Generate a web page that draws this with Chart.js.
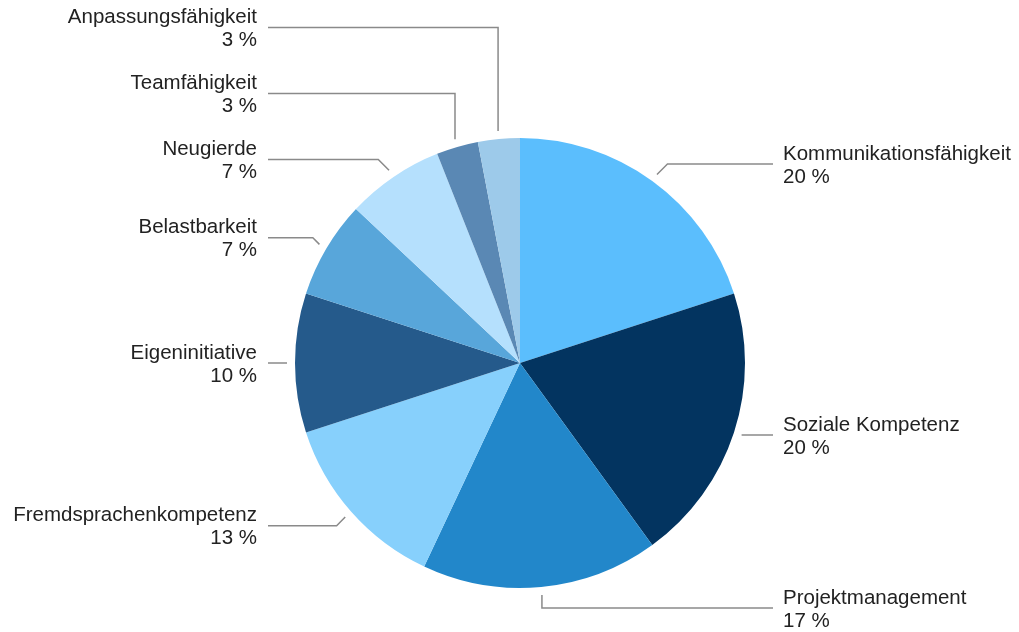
<!DOCTYPE html>
<html>
<head>
<meta charset="utf-8">
<script src="https://cdn.jsdelivr.net/npm/chart.js@4"></script>
<style>
  html, body { margin: 0; padding: 0; background: #fff; }
  #wrap { width: 1019px; height: 632px; }
</style>
</head>
<body>
<div id="wrap"><canvas id="pieChart"></canvas></div>
<script>
const labels = ['Kommunikationsfähigkeit', 'Soziale Kompetenz', 'Projektmanagement',
  'Fremdsprachenkompetenz', 'Eigeninitiative', 'Belastbarkeit', 'Neugierde',
  'Teamfähigkeit', 'Anpassungsfähigkeit'];
const shares = [20, 20, 17, 13, 10, 7, 7, 3, 3];
const colorHex = ['#5BBEFD', '#033460', '#2287CA', '#87D0FC', '#255A8B',
  '#58A6DA', '#B5E0FD', '#5A88B4', '#9DCAEA'];

// labels with leader lines
const calloutPlugin = {
  id: 'callouts',
  afterDatasetsDraw(chart) {
    const ctx = chart.ctx;
    const meta = chart.getDatasetMeta(0);
    const items = meta.data.map((arc, i) => {
      const mid = (arc.startAngle + arc.endAngle) / 2;
      const r = arc.outerRadius + 8;
      const ax = arc.x + Math.cos(mid) * r;
      const ay = arc.y + Math.sin(mid) * r;
      const side = Math.cos(mid) >= 0 ? 1 : -1;
      const s = Math.sin(mid);
      return { i, mid, ax, ay, side, ly: ay + (Math.abs(s) < 0.4 ? 0 : s * 13) };
    });

    // push labels apart, left side upwards, right side downwards
    const left = items.filter(d => d.side < 0).sort((a, b) => b.ay - a.ay);
    for (let k = 1; k < left.length; k++) {
      left[k].ly = Math.min(left[k].ly, left[k - 1].ly - 66);
    }
    const right = items.filter(d => d.side > 0).sort((a, b) => a.ay - b.ay);
    for (let k = 1; k < right.length; k++) {
      right[k].ly = Math.max(right[k].ly, right[k - 1].ly + 66);
    }

    ctx.save();
    ctx.strokeStyle = '#8a8a8a';
    ctx.lineWidth = 1.5;
    ctx.font = '20.5px "Liberation Sans", Arial, sans-serif';
    ctx.fillStyle = '#222';
    ctx.textBaseline = 'middle';
    items.forEach(d => {
      const dy = d.ly - d.ay;
      const dx = Math.abs(Math.cos(d.mid)) > 0.4 ? Math.abs(dy) * d.side : 0;
      const endX = d.side > 0 ? 773 : 268;
      ctx.beginPath();
      ctx.moveTo(d.ax, d.ay);
      ctx.lineTo(d.ax + dx, d.ly);
      ctx.lineTo(endX, d.ly);
      ctx.stroke();
      ctx.textAlign = d.side > 0 ? 'left' : 'right';
      const tx = d.side > 0 ? 783 : 257;
      ctx.fillText(labels[d.i], tx, d.ly - 10);
      ctx.fillText(shares[d.i] + ' %', tx, d.ly + 13);
    });
    ctx.restore();
  }
};

new Chart(document.getElementById('pieChart'), {
  type: 'pie',
  data: {
    labels: labels,
    datasets: [{
      data: shares,
      backgroundColor: colorHex,
      borderWidth: 0
    }]
  },
  options: {
    responsive: true,
    maintainAspectRatio: false,
    animation: false,
    layout: { padding: { left: 295, right: 274, top: 138, bottom: 44 } },
    plugins: {
      legend: { display: false },
      tooltip: { enabled: false }
    }
  },
  plugins: [calloutPlugin]
});
</script>
</body>
</html>
